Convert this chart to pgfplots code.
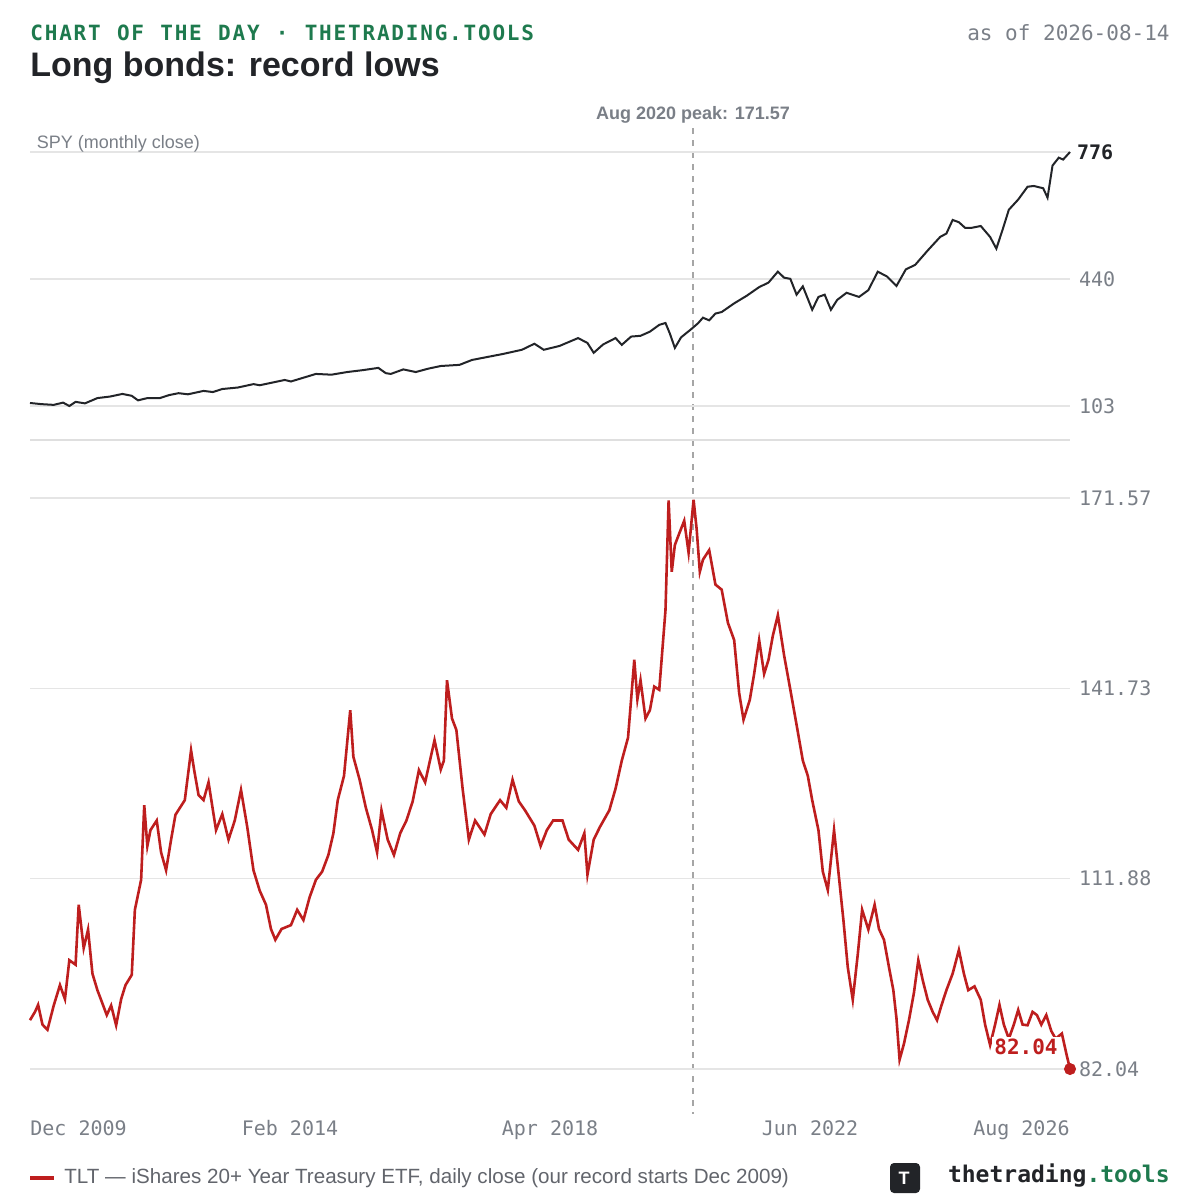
\documentclass[border=0pt]{standalone}
\usepackage{pgfplots}
\pgfplotsset{compat=1.18}
\usepackage{fontspec}
\setmainfont{Liberation Sans}
\setmonofont{DejaVu Sans Mono}
\definecolor{hdrgreen}{HTML}{1E7A4E}
\definecolor{tltred}{HTML}{BE1E1E}
\definecolor{tickgray}{HTML}{7A7F87}
\definecolor{dark}{HTML}{222428}
\def\k{\kern.9pt}
\begin{document}
\begin{tikzpicture}
\useasboundingbox (0,0) rectangle (600pt,-600pt);
\fill[white] (0,0) rectangle (600pt,-600pt);
% header
\node[anchor=west,font=\ttfamily\bfseries\fontsize{10.5}{12}\selectfont,text=hdrgreen,inner sep=0] at (15pt,-16.5pt) {C\k H\k A\k R\k T\k\ \k O\k F\k\ \k T\k H\k E\k\ \k D\k A\k Y\k\ \k ·\k\ \k T\k H\k E\k T\k R\k A\k D\k I\k N\k G\k .\k T\k O\k O\k L\k S};
\node[anchor=east,font=\ttfamily\fontsize{10.5}{12}\selectfont,text=tickgray,inner sep=0] at (585pt,-16.5pt) {as of 2026-08-14};
\node[anchor=west,font=\bfseries\fontsize{17}{20}\selectfont,text=dark,inner sep=0] at (15pt,-34pt) {Long bonds: record lows};
\node[font=\bfseries\fontsize{9}{11}\selectfont,text=tickgray,inner sep=0] at (346.5pt,-57.5pt) {Aug 2020 peak: 171.57};
\draw[gray!70,dashed,line width=0.6pt] (346.5pt,-64pt) -- (346.5pt,-557pt);
\draw[gray!25,line width=0.8pt] (15pt,-220pt) -- (535pt,-220pt);
\begin{axis}[at={(15pt,-203pt)},anchor=south west,scale only axis,
  width=520pt,height=127pt,xmin=2009.92,xmax=2026.58,ymin=103,ymax=776,
  axis line style={draw=none},tick style={draw=none},xtick=\empty,
  ytick={103,440,776},yticklabels={103,440,},yticklabel pos=right,
  ymajorgrids,grid style={gray!20,line width=0.8pt},
  yticklabel style={font=\ttfamily\fontsize{10}{12}\selectfont,text=tickgray,xshift=1pt},clip=false]
\addplot[dark,line width=1pt] coordinates {
(2009.92,111)(2010.1,108)(2010.3,106)(2010.45,112)(2010.55,103)(2010.65,114)(2010.8,110)(2011.0,124)(2011.2,128)(2011.4,135)(2011.55,130)(2011.65,118)(2011.8,124)
(2012.0,124)(2012.15,132)(2012.3,137)(2012.45,134)(2012.7,143)(2012.85,140)(2013.0,148)(2013.25,152)(2013.5,161)(2013.6,158)(2014.0,172)(2014.1,168)(2014.5,188)(2014.75,186)
(2015.0,193)(2015.25,198)(2015.5,204)(2015.62,190)(2015.7,188)(2015.9,200)(2016.1,193)(2016.3,202)(2016.5,209)(2016.8,212)(2017.0,225)(2017.5,241)(2017.8,252)
(2018.0,268)(2018.15,252)(2018.4,262)(2018.7,283)(2018.85,270)(2018.95,244)(2019.1,266)(2019.3,283)(2019.4,265)(2019.55,287)(2019.7,289)(2019.85,300)
(2020.0,318)(2020.1,323)(2020.17,295)(2020.25,257)(2020.35,285)(2020.5,305)(2020.62,322)(2020.7,337)(2020.8,330)(2020.9,348)(2021.0,352)(2021.2,375)(2021.4,395)(2021.6,418)
(2021.75,430)(2021.9,459)(2022.0,443)(2022.1,440)(2022.2,398)(2022.3,420)(2022.45,358)(2022.55,392)(2022.65,398)(2022.75,358)(2022.85,384)(2023.0,403)(2023.2,392)(2023.35,410)
(2023.5,459)(2023.65,446)(2023.8,421)(2023.95,465)(2024.1,477)(2024.3,515)(2024.5,551)(2024.6,560)(2024.7,596)(2024.8,590)(2024.9,575)(2025.0,575)(2025.15,580)(2025.3,551)(2025.4,520)(2025.5,570)
(2025.6,623)(2025.75,650)(2025.9,684)(2026.0,686)(2026.15,680)(2026.22,655)(2026.3,740)(2026.4,761)(2026.47,756)(2026.58,776)};
\node[anchor=west,font=\ttfamily\bfseries\fontsize{10}{12}\selectfont,text=dark] at (axis cs:2026.58,776) {776};
\node[anchor=south west,font=\fontsize{9}{11}\selectfont,text=tickgray,inner sep=1pt] at (axis cs:2009.99,770) {SPY (monthly close)};
\end{axis}
\begin{axis}[at={(15pt,-534.5pt)},anchor=south west,scale only axis,
  width=520pt,height=285.5pt,xmin=2009.92,xmax=2026.58,ymin=82.04,ymax=171.57,
  axis line style={draw=none},tick style={draw=none},
  xtick=\empty,
  ytick={82.04,111.88,141.73,171.57},yticklabels={82.04,111.88,141.73,171.57},yticklabel pos=right,
  ymajorgrids,grid style={gray!20,line width=0.8pt},
  yticklabel style={font=\ttfamily\fontsize{10}{12}\selectfont,text=tickgray,xshift=1pt},clip=false]
\addplot[tltred,line width=1.3pt] coordinates {
(2009.92,89.7)(2010.0,91)(2010.05,92.1)(2010.12,89)(2010.2,88.2)(2010.3,92)(2010.4,95.2)(2010.48,93)(2010.55,99.1)(2010.65,98.4)(2010.7,107.8)(2010.78,101)(2010.85,103.9)(2010.92,97)
(2011.0,94.4)(2011.15,90.5)(2011.22,92)(2011.3,88.9)(2011.38,93)(2011.45,95.2)(2011.55,96.8)(2011.6,107)(2011.7,111.7)(2011.75,123.4)(2011.8,117)(2011.85,119.5)(2011.95,121)
(2012.02,116)(2012.1,113.2)(2012.18,118)(2012.25,121.9)(2012.4,124.2)(2012.5,132)(2012.55,128.9)(2012.62,125)(2012.7,124.2)(2012.78,127)(2012.9,119.5)(2013.0,122)(2013.1,118)(2013.2,121)(2013.3,125.8)
(2013.4,120)(2013.5,113.2)(2013.6,110)(2013.7,107.8)(2013.78,104)(2013.85,102.3)(2013.95,104)(2014.1,104.6)(2014.2,107)(2014.3,105.4)(2014.4,109)(2014.5,111.7)(2014.6,113)(2014.7,115.6)
(2014.78,119)(2014.85,124.2)(2014.95,128)(2015.05,138.3)(2015.1,131)(2015.2,127.4)(2015.3,123)(2015.4,119.5)(2015.48,116)(2015.55,122.6)(2015.65,118)(2015.75,115.6)(2015.85,119)(2015.95,121)
(2016.05,124)(2016.15,128.9)(2016.25,127)(2016.4,133.6)(2016.5,129)(2016.55,130.4)(2016.6,143)(2016.68,137)(2016.75,135.2)(2016.85,126)(2016.95,118)(2017.05,121)(2017.2,118.8)(2017.3,122)
(2017.45,124.2)(2017.55,123)(2017.65,127.4)(2017.75,124)(2017.85,122.6)(2018.0,120.2)(2018.1,117)(2018.2,119.5)(2018.3,121)(2018.45,121)(2018.55,118)(2018.7,116.4)(2018.8,119)(2018.85,112.5)
(2018.95,118)(2019.05,120)(2019.2,122.6)(2019.3,126)(2019.4,130.4)(2019.5,134)(2019.6,146.2)(2019.65,140)(2019.7,143)(2019.78,137)(2019.85,138.3)(2019.92,142)(2020.0,141.5)(2020.1,154)
(2020.15,171.2)(2020.2,160)(2020.25,164.2)(2020.32,166)(2020.4,168)(2020.47,163)(2020.55,171.3)(2020.6,166.6)(2020.65,160)(2020.7,161.9)(2020.8,163.4)(2020.9,158)(2021.0,157.2)(2021.1,152)
(2021.2,149.3)(2021.28,141)(2021.35,136.8)(2021.45,139.9)(2021.52,144)(2021.6,149.3)(2021.68,144)(2021.75,146.2)(2021.82,150)(2021.9,153.2)(2022.0,146.9)(2022.1,141.5)(2022.2,136)(2022.3,130.4)
(2022.38,128)(2022.45,124.2)(2022.55,119.5)(2022.62,113)(2022.7,110.1)(2022.8,119.5)(2022.88,112)(2022.95,105.4)(2023.02,98)(2023.1,92.9)(2023.18,100)(2023.25,107)(2023.35,103.9)(2023.45,107.8)
(2023.52,104)(2023.6,102.3)(2023.68,98)(2023.75,94.4)(2023.8,90)(2023.85,83.5)(2023.92,86)(2024.0,89.7)(2024.08,94)(2024.15,99.1)(2024.22,96)(2024.3,92.9)(2024.38,91)(2024.45,89.7)
(2024.52,92)(2024.6,94.4)(2024.7,97)(2024.8,100.7)(2024.88,97)(2024.95,94.4)(2025.05,95)(2025.15,92.9)(2025.22,89)(2025.3,85.8)(2025.38,89)(2025.45,92.1)(2025.52,89)(2025.6,86.8)
(2025.68,89)(2025.75,91.3)(2025.82,89)(2025.9,88.9)(2025.98,91)(2026.05,90.5)(2026.12,89)(2026.2,90.5)(2026.28,88)(2026.35,86.8)(2026.45,87.6)(2026.52,84.5)(2026.58,82.04)};
\addplot[only marks,mark=*,mark size=2.8pt,tltred] coordinates {(2026.58,82.04)};
\node[anchor=east,font=\ttfamily\bfseries\fontsize{10.5}{12}\selectfont,text=tltred,fill=white,inner sep=1pt] at (axis cs:2026.42,85.5) {82.04};
\end{axis}
% x tick labels
\begin{scope}[font=\ttfamily\fontsize{10}{12}\selectfont,text=tickgray,inner sep=0]
\node[anchor=base west] at (15pt,-567.5pt) {Dec 2009};
\node[anchor=base] at (145pt,-567.5pt) {Feb 2014};
\node[anchor=base] at (275pt,-567.5pt) {Apr 2018};
\node[anchor=base] at (405pt,-567.5pt) {Jun 2022};
\node[anchor=base east] at (535pt,-567.5pt) {Aug 2026};
\end{scope}
% legend
\draw[tltred,line width=2pt] (15pt,-589pt) -- (27pt,-589pt);
\node[anchor=west,font=\fontsize{10.3}{12}\selectfont,text=tickgray!80!black,inner sep=0] at (32pt,-589pt) {TLT — iShares 20+ Year Treasury ETF, daily close (our record starts Dec 2009)};
\fill[dark,rounded corners=2pt] (445pt,-581.5pt) rectangle (460pt,-596.5pt);
\node[font=\bfseries\fontsize{9}{10}\selectfont,text=white] at (452pt,-589pt) {T};
\node[anchor=east,font=\ttfamily\bfseries\fontsize{11.5}{13}\selectfont,inner sep=0] at (585pt,-588pt) {\textcolor{dark}{thetrading}\textcolor{hdrgreen}{.tools}};
\end{tikzpicture}
\end{document}
